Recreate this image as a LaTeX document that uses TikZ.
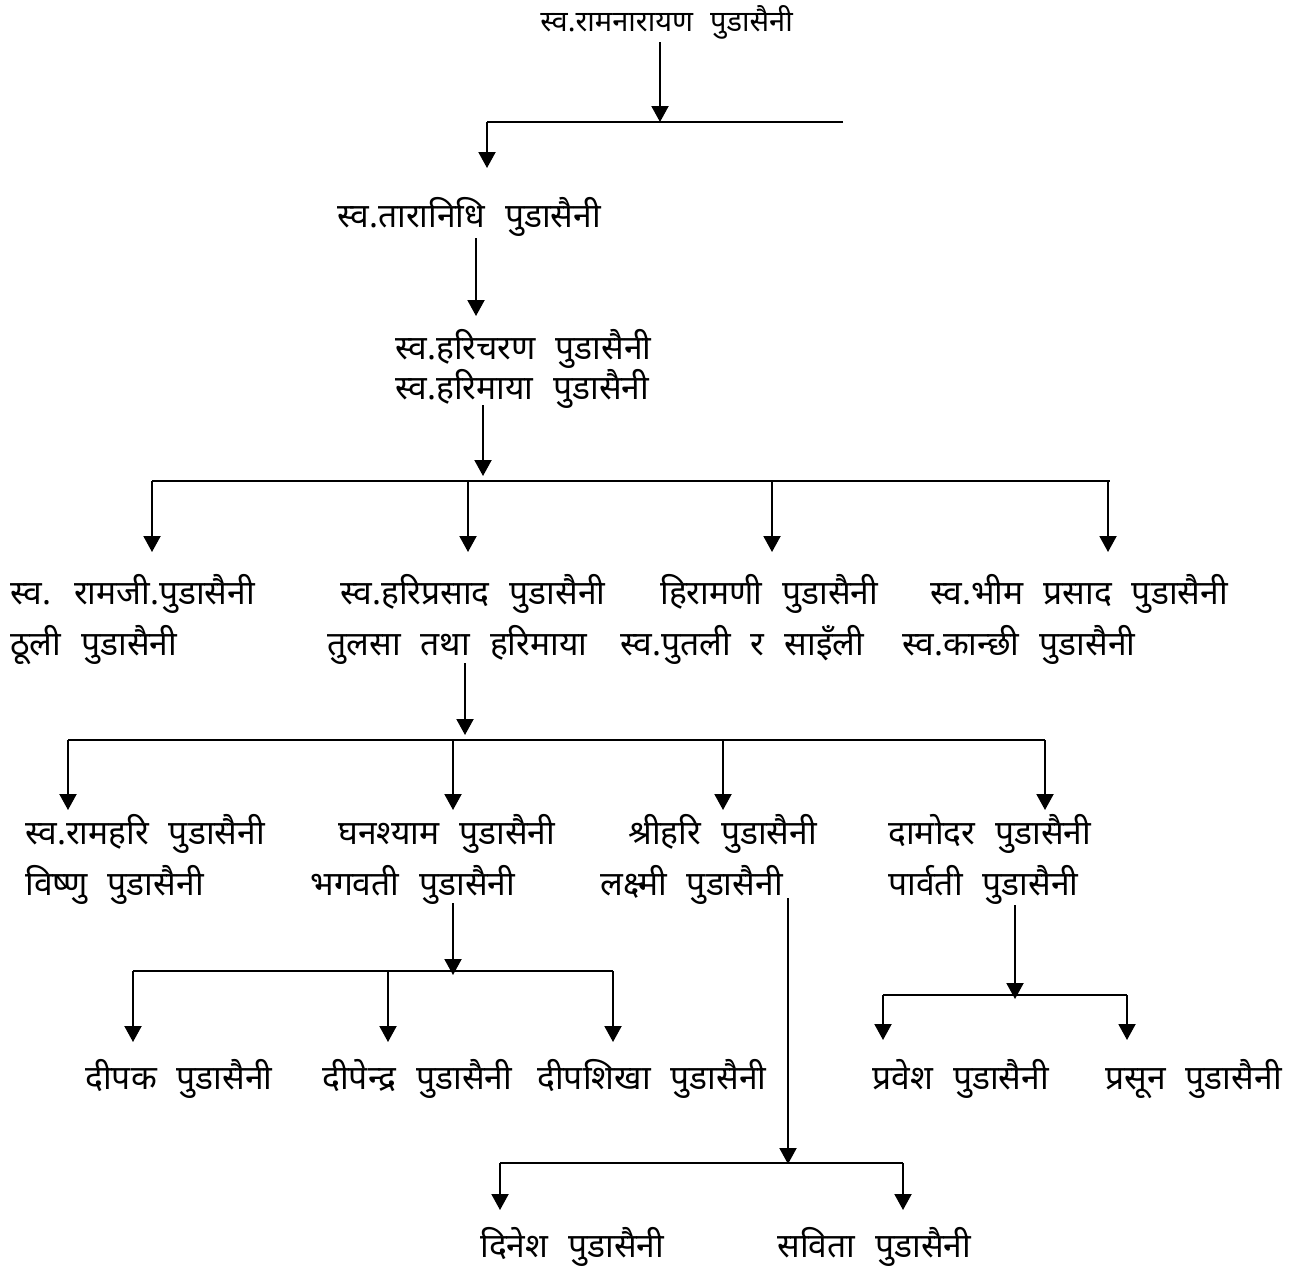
\documentclass[tikz,border=0pt]{standalone}
\usepackage{fontspec}
\newfontfamily\devfont[Script=Devanagari]{Noto Sans}
\newcommand\mynmfont{\devfont\fontsize{16.8}{20}\selectfont\spaceskip 10pt\relax}
\newcommand\myttlfont{\devfont\fontsize{14.5}{17}\selectfont\spaceskip 8.5pt\relax}
\usetikzlibrary{arrows.meta}
\begin{document}
\begin{tikzpicture}[x=0.5pt,y=-0.5pt,
  nm/.style={anchor=base west,inner sep=0pt,font=\mynmfont},
  ttl/.style={anchor=base west,inner sep=0pt,font=\myttlfont},
  ln/.style={line width=1pt},
  arr/.style={line width=1pt,-{Triangle[width=8.5pt,length=8pt]}}]
\useasboundingbox (0,0) rectangle (1295,1266);
% names
\node[ttl] (t0) at (540,31) {स्व.रामनारायण पुडासैनी};
\node[nm] (t1) at (337,227) {स्व.तारानिधि पुडासैनी};
\node[nm] (t2a) at (395,359) {स्व.हरिचरण पुडासैनी};
\node[nm] (t2b) at (395,399) {स्व.हरिमाया पुडासैनी};
\node[nm] (r3a1) at (10,604) {स्व. रामजी.पुडासैनी};
\node[nm] (r3a2) at (10,655) {ठूली पुडासैनी};
\node[nm] (r3b1) at (340,604) {स्व.हरिप्रसाद पुडासैनी};
\node[nm] (r3b2) at (327,655) {तुलसा तथा हरिमाया};
\node[nm] (r3c1) at (660,604) {हिरामणी पुडासैनी};
\node[nm] (r3c2) at (620,655) {स्व.पुतली र साइँली};
\node[nm] (r3d1) at (930,604) {स्व.भीम प्रसाद पुडासैनी};
\node[nm] (r3d2) at (902,655) {स्व.कान्छी पुडासैनी};
\node[nm] (r4a1) at (25,844) {स्व.रामहरि पुडासैनी};
\node[nm] (r4a2) at (25,895) {विष्णु पुडासैनी};
\node[nm] (r4b1) at (338,844) {घनश्याम पुडासैनी};
\node[nm] (r4b2) at (310,895) {भगवती पुडासैनी};
\node[nm] (r4c1) at (628,844) {श्रीहरि पुडासैनी};
\node[nm] (r4c2) at (600,895) {लक्ष्मी पुडासैनी};
\node[nm] (r4d1) at (888,844) {दामोदर पुडासैनी};
\node[nm] (r4d2) at (888,895) {पार्वती पुडासैनी};
\node[nm] (r5a) at (85,1089) {दीपक पुडासैनी};
\node[nm] (r5b) at (322,1089) {दीपेन्द्र पुडासैनी};
\node[nm] (r5c) at (537,1089) {दीपशिखा पुडासैनी};
\node[nm] (r5d) at (872,1089) {प्रवेश पुडासैनी};
\node[nm] (r5e) at (1105,1089) {प्रसून पुडासैनी};
\node[nm] (r6a) at (480,1257) {दिनेश पुडासैनी};
\node[nm] (r6b) at (777,1257) {सविता पुडासैनी};
% connector points
\coordinate (s0) at (660,42);
\coordinate (j0) at (660,122);
\coordinate (j0l) at (487,122);
\coordinate (j0r) at (843,122);
\coordinate (e0) at (487,168);
\draw[arr] (s0) -- (j0);
\draw[ln] (j0r) -- (j0l);
\draw[arr] (j0l) -- (e0);
\coordinate (s1) at (476,238);
\coordinate (e1) at (476,316);
\draw[arr] (s1) -- (e1);
% generation 3
\coordinate (s2) at (483,405);
\coordinate (j2) at (483,476);
\draw[arr] (s2) -- (j2);
\draw[ln] (152,481) -- (1110,481);
\foreach \xx/\nn in {152/a,468/b,772/c,1108/d}{
  \coordinate (d2\nn) at (\xx,481);
  \draw[arr] (d2\nn) -- (\xx,552);
}
% generation 4
\coordinate (s3) at (465,663);
\coordinate (j3) at (465,735);
\draw[arr] (s3) -- (j3);
\draw[ln] (68,740) -- (1045,740);
\foreach \xx/\nn in {68/a,453/b,723/c,1045/d}{
  \coordinate (d3\nn) at (\xx,740);
  \draw[arr] (d3\nn) -- (\xx,810);
}
% children of ghanashyam
\coordinate (s4) at (453,903);
\coordinate (j4) at (453,975);
\draw[arr] (s4) -- (j4);
\draw[ln] (133,971) -- (613,971);
\foreach \xx/\nn in {133/a,388/b,613/c}{
  \coordinate (d4\nn) at (\xx,971);
  \draw[arr] (d4\nn) -- (\xx,1042);
}
% children of damodar
\coordinate (s5) at (1015,905);
\coordinate (j5) at (1015,999);
\draw[arr] (s5) -- (j5);
\draw[ln] (883,995) -- (1127,995);
\foreach \xx/\nn in {883/a,1127/b}{
  \coordinate (d5\nn) at (\xx,995);
  \draw[arr] (d5\nn) -- (\xx,1040);
}
% children of shrihari
\coordinate (s6) at (788,898);
\coordinate (j6) at (788,1164);
\draw[arr] (s6) -- (j6);
\draw[ln] (500,1163) -- (903,1163);
\foreach \xx/\nn in {500/a,903/b}{
  \coordinate (d6\nn) at (\xx,1163);
  \draw[arr] (d6\nn) -- (\xx,1210);
}
\end{tikzpicture}
\end{document}
